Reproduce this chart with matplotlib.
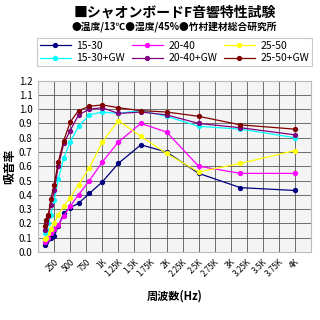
import matplotlib
matplotlib.use("Agg")
import matplotlib.pyplot as plt

plt.rcParams['font.family'] = ['Noto Sans CJK JP', 'DejaVu Sans']

# third-octave band centre frequencies (Hz)
freqs = [100, 125, 160, 200, 250, 315, 400, 500, 630, 800, 1000, 1250, 1600, 2000, 2500, 3150, 4000]

s15_30 = [0.05, 0.07, 0.09, 0.10, 0.11, 0.18, 0.27, 0.31, 0.34, 0.41, 0.49, 0.62, 0.75, 0.70, 0.55, 0.45, 0.43]
s20_40 = [0.07, 0.08, 0.10, 0.13, 0.16, 0.19, 0.25, 0.32, 0.40, 0.50, 0.63, 0.77, 0.90, 0.84, 0.60, 0.55, 0.55]
s25_50 = [0.09, 0.10, 0.13, 0.16, 0.20, 0.26, 0.32, 0.38, 0.47, 0.59, 0.77, 0.92, 0.81, 0.69, 0.56, 0.62, 0.71]
s15_30gw = [0.13, 0.16, 0.20, 0.26, 0.36, 0.51, 0.66, 0.77, 0.88, 0.96, 0.98, 0.97, 0.99, 0.95, 0.88, 0.86, 0.80]
s20_40gw = [0.15, 0.20, 0.25, 0.33, 0.43, 0.60, 0.76, 0.85, 0.96, 1.00, 1.01, 0.97, 0.98, 0.96, 0.90, 0.87, 0.82]
s25_50gw = [0.18, 0.22, 0.26, 0.37, 0.47, 0.63, 0.78, 0.91, 0.99, 1.02, 1.03, 1.01, 0.99, 0.98, 0.95, 0.89, 0.86]

series = [
    ("15-30", s15_30, "#000080"),
    ("20-40", s20_40, "#ff00ff"),
    ("25-50", s25_50, "#ffff00"),
    ("15-30+GW", s15_30gw, "#00ffff"),
    ("20-40+GW", s20_40gw, "#800080"),
    ("25-50+GW", s25_50gw, "#800000"),
]

xticks = [250 * i for i in range(1, 17)]
xlabels = ["250", "500", "750", "1K", "1.25K", "1.5K", "1.75K", "2K", "2.25K", "2.5K",
           "2.75K", "3K", "3.25K", "3.5K", "3.75K", "4K"]
yticks = [0.0, 0.1, 0.2, 0.3, 0.4, 0.5, 0.6, 0.7, 0.8, 0.9, 1.0, 1.1, 1.2]

fig = plt.figure(figsize=(3.2, 3.2), dpi=100)
ax = fig.add_axes([0.119, 0.213, 0.853, 0.535])
ax.set_facecolor("#f4f4f4")

lines = []
for name, vals, col in series:
    ln, = ax.plot(freqs, vals, color=col, lw=0.9, marker='o', ms=2.8,
                  mec=col, mfc=col, label=name)
    lines.append(ln)

ax.set_xlim(0, 4250)
ax.set_ylim(0, 1.2)
ax.set_xticks(xticks)
ax.set_xticklabels(xlabels, rotation=45, ha='right', rotation_mode='anchor', fontsize=5.8)
ax.set_yticks(yticks)
ax.set_yticklabels(["%.1f" % v for v in yticks], fontsize=7)
ax.tick_params(length=0, pad=4)
ax.grid(True, color="#555555", lw=0.6)
ax.set_axisbelow(True)
for sp in ax.spines.values():
    sp.set_color("#bbbbbb")

ax.set_ylabel("吸音率", fontsize=8.5, fontweight='bold')
ax.yaxis.set_label_coords(-0.08, 0.5)
ax.set_xlabel("周波数(Hz)", fontsize=8, fontweight='bold', labelpad=8)

# legend filled row by row like the original
order = [0, 3, 1, 4, 2, 5]
leg = fig.legend([lines[i] for i in order], [series[i][0] for i in order],
                 loc='upper left', bbox_to_anchor=(0.116, 0.772, 0.858, 0.109),
                 mode='expand', ncol=3, fontsize=7.5, frameon=True, fancybox=False,
                 handlelength=3.0, handletextpad=0.5, borderpad=0.25,
                 labelspacing=0.25, columnspacing=0.4, borderaxespad=0)
leg.get_frame().set_edgecolor("#bbbbbb")
leg.get_frame().set_linewidth(0.8)

fig.text(0.545, 0.962, "■シャオンボードF音響特性試験", ha='center', va='center',
         fontsize=10, fontweight='bold')
fig.text(0.545, 0.918, "●温度/13℃●湿度/45%●竹村建材総合研究所", ha='center', va='center',
         fontsize=7, fontweight='bold')

plt.savefig("out.png", dpi=100)
